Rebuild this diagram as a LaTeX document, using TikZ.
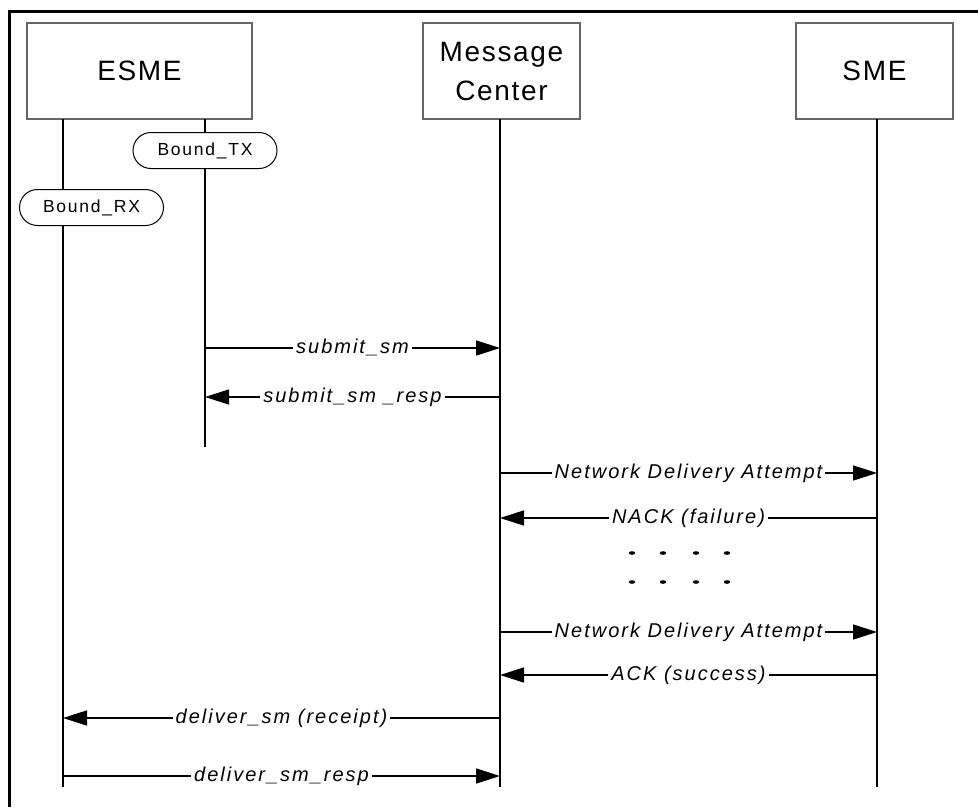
\documentclass[tikz,border=0pt]{standalone}
\usepackage{fontspec}
\usetikzlibrary{arrows.meta,positioning}
\newfontfamily\boxfont[LetterSpace=6]{Liberation Sans}
\newfontfamily\pillfont[LetterSpace=10]{Liberation Sans}
\newfontfamily\msgfont[LetterSpace=10]{Liberation Sans}
\tikzset{
    actor/.style={rectangle,draw=black!60,line width=1.2pt,minimum width=157pt,minimum height=96pt,inner sep=0pt,outer sep=0pt,align=center,font=\boxfont\fontsize{28pt}{39pt}\selectfont},
    bound/.style={rectangle,rounded corners=18pt,draw,line width=1pt,fill=white,minimum width=144pt,minimum height=36pt,inner sep=0pt,font=\pillfont\fontsize{17.5pt}{20pt}\selectfont},
    life/.style={-,line width=1.5pt},
    msg/.style={-{Triangle[length=24pt,width=15pt]},line width=1.5pt},
    lbl/.style={fill=white,inner xsep=3pt,inner ysep=0pt,text height=14pt,text depth=4pt,font=\msgfont\itshape\fontsize{20pt}{24pt}\selectfont}
}

\begin{document}
\begin{tikzpicture}[x=1pt,y=-1pt]

    \useasboundingbox (0,0) rectangle (978,807);

    % frame
    \draw[line width=3pt] (9,807) -- (9,11.5) -- (978,11.5);

    \node[actor,minimum width=225pt] (esme) at (139.5,71)   {ESME};
    \node[actor] (mc)  [right=171pt of esme]                {Message\\Center};
    \node[actor] (sme) [right=216pt of mc]                  {SME};

    \coordinate (rx)   at ([xshift=36pt]esme.south west);
    \coordinate (tx)   at ([xshift=-47pt]esme.south east);
    \coordinate (mcl)  at ([xshift=-1.5pt]mc.south);
    \coordinate (smel) at ([xshift=2.5pt]sme.south);
    \coordinate (bottom) at (0,787);
    \coordinate (txend)  at (0,447);

    % lifelines
    \draw[life] (rx)   -- (rx |- bottom);
    \draw[life] (tx)   -- (tx |- txend);
    \draw[life] (mcl)  -- (mcl |- bottom);
    \draw[life] (smel) -- (smel |- bottom);

    \node[bound] (btx) [below=13pt of tx]           {Bound\_TX};
    \node[bound] (brx) at (91.5,207.5)              {Bound\_RX};

    % message rows
    \coordinate (r1) at (0,348);
    \coordinate (r2) at (0,397);
    \coordinate (r3) at (0,473);
    \coordinate (r4) at (0,518);
    \coordinate (r5) at (0,632);
    \coordinate (r6) at (0,675);
    \coordinate (r7) at (0,718);
    \coordinate (r8) at (0,776);

    \draw[msg] (tx |- r1)   -- node[lbl] {submit\_sm}                 (mcl |- r1);
    \draw[msg] (mcl |- r2)  -- node[lbl] {submit\_sm \_resp}          (tx |- r2);
    \draw[msg] (mcl |- r3)  -- node[lbl] {Network Delivery Attempt}   (smel |- r3);
    \draw[msg] (smel |- r4) -- node[lbl] {NACK (failure)}             (mcl |- r4);
    \draw[msg] (mcl |- r5)  -- node[lbl] {Network Delivery Attempt}   (smel |- r5);
    \draw[msg] (smel |- r6) -- node[lbl] {ACK (success)}              (mcl |- r6);
    \draw[msg] (mcl |- r7)  -- node[lbl] {deliver\_sm (receipt)}      (rx |- r7);
    \draw[msg] (rx |- r8)   -- node[lbl] {deliver\_sm\_resp}          (mcl |- r8);

    % dots
    \foreach \x in {632,663,696,727}
        \foreach \y in {553,582}
            \fill (\x,\y) ellipse [x radius=3.2pt,y radius=1.8pt];

\end{tikzpicture}
\end{document}
